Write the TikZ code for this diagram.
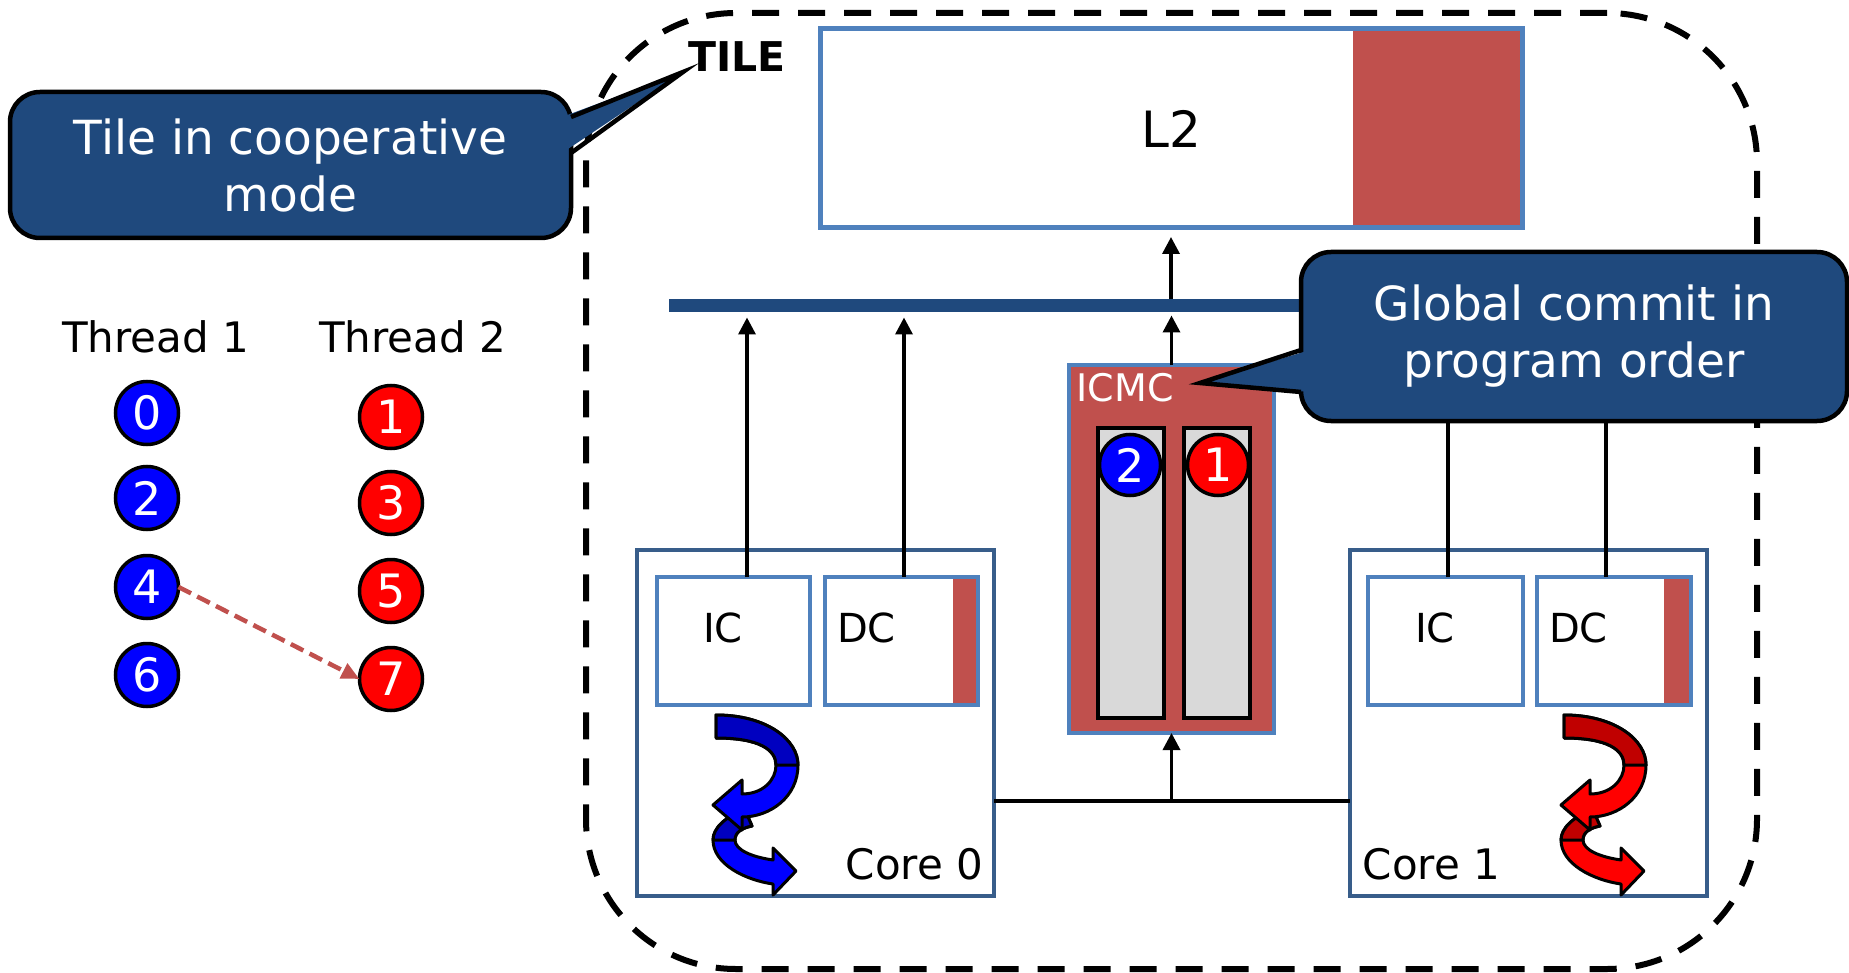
\documentclass[tikz,border=0pt]{standalone}
\usepackage{fontspec}
\setmainfont{DejaVu Sans}
\usetikzlibrary{arrows.meta,calc}
\definecolor{dblue}{RGB}{31,73,125}
\definecolor{lblue}{RGB}{79,129,189}
\definecolor{cblue}{RGB}{56,93,138}
\definecolor{redc}{RGB}{192,80,77}
\definecolor{slotgray}{RGB}{217,217,217}
\definecolor{tblue}{RGB}{0,0,255}
\definecolor{tred}{RGB}{255,0,0}
\definecolor{dkblue}{RGB}{0,0,192}
\definecolor{dkred}{RGB}{192,0,0}
\newcommand\swirlpair[3]{%
\begin{scope}[xshift=#1, line width=3pt, line join=round]
 \filldraw[draw=black,fill=#3] (745,810) .. controls (726,816) and (713,828) .. (713,840) .. controls (713,864) and (745,880) .. (773,884) -- (773,895) -- (796,871) -- (773,848) -- (773,860) .. controls (752,857) and (735,850) .. (735,840) .. controls (735,832) and (742,828) .. (752,826) -- cycle;
 \filldraw[draw=black,fill=#2] (745,810) .. controls (726,816) and (713,828) .. (713,840) -- (735,840) .. controls (735,832) and (742,828) .. (752,826) -- cycle;
 \filldraw[draw=black,fill=#3] (716,715) .. controls (767,715) and (798,740) .. (798,765) .. controls (798,797) and (770,817) .. (742,817) -- (742,830) -- (713,805) -- (742,780) -- (742,794) .. controls (763,794) and (776,780) .. (776,765) .. controls (776,750) and (760,738) .. (716,738) -- cycle;
 \filldraw[draw=black,fill=#2] (716,715) .. controls (767,715) and (798,740) .. (798,765) -- (776,765) .. controls (776,750) and (760,738) .. (716,738) -- cycle;
\end{scope}}
\begin{document}
\begin{tikzpicture}[x=1pt,y=-1pt,
  every node/.style={outer sep=0pt},
  cachebox/.style={draw=lblue,line width=3.5pt,minimum height=128pt,inner sep=0pt},
  corebox/.style={draw=cblue,line width=4.5pt,fill=white,minimum width=357pt,minimum height=346pt,inner sep=0pt},
  lbl/.style={font=\fontsize{40}{48}\selectfont,inner sep=0pt},
  corelbl/.style={font=\fontsize{42}{50}\selectfont,inner sep=0pt},
  numbase/.style={circle,draw=black,line width=3.5pt,text=white,minimum size=63pt,inner sep=0pt,font=\fontsize{46}{50}\selectfont},
  numA/.style={numbase,fill=tblue},
  numB/.style={numbase,fill=tred},
  slot/.style={draw=black,line width=4pt,fill=slotgray,minimum width=66pt,minimum height=290pt,inner sep=0pt},
  arr/.style={line width=3.5pt,-{Triangle[width=17pt,length=17pt]}},
  callout/.style={draw=black,line width=4.5pt,fill=dblue,text=white,rounded corners=30pt,align=center,inner sep=0pt,font=\fontsize{47}{57}\selectfont},
  calltip/.style={line width=4.5pt,line join=miter}
]
\useasboundingbox (0,0) rectangle (1849,973);

% tile outline
\node[draw=black,line width=6pt,dash pattern=on 27pt off 19pt,rounded corners=150pt,minimum width=1171pt,minimum height=956pt,inner sep=0pt] (tile) at (1171.5,491) {};
\node[font=\bfseries\fontsize{41}{48}\selectfont,inner sep=0pt] (tilelbl) at (737,57) {TILE};

% L2
\fill[redc] (1353,29) rectangle (1522,228);
\node[draw=lblue,line width=5pt,minimum width=702pt,minimum height=199pt,inner sep=0pt,font=\fontsize{50}{56}\selectfont] (l2) at (1171,128.5) {L2};

% bus
\node[fill=dblue,minimum width=830pt,minimum height=13pt,inner sep=0pt,anchor=west] (bus) at (669,306) {};

% ICMC
\node[draw=lblue,line width=3.5pt,fill=redc,minimum width=205pt,minimum height=368pt,inner sep=0pt] (icmc) at (1171.5,549) {};
\node[font=\fontsize{38}{44}\selectfont,text=white,inner sep=0pt] (icmclbl) at (1125,388) {ICMC};
\node[slot] (slotA) at (1131,573) {};
\node[slot] (slotB) at (1217,573) {};
\node[numA,minimum size=61pt] (q2) at (1130,465) {2};
\node[numB,minimum size=61pt] (q1) at (1218,465) {1};

% cores
\node[corebox] (core0) at (815.5,723) {};
\node[corebox] (core1) at (1528.5,723) {};
\node[corelbl] (core0lbl) at (914.5,864) {Core 0};
\node[corelbl] (core1lbl) at (1431.5,864) {Core 1};

\node[cachebox,minimum width=153pt] (ic0) at (733.5,641) {};
\fill[redc] (953,577) rectangle (978,705);
\node[cachebox,minimum width=153pt] (dc0) at (901.5,641) {};
\node[cachebox,minimum width=155pt] (ic1) at (1445.5,641) {};
\fill[redc] (1664,577) rectangle (1691,705);
\node[cachebox,minimum width=154pt] (dc1) at (1614,641) {};
\node[lbl] (ic0lbl) at (723,628) {IC};
\node[lbl] (dc0lbl) at (866.5,628) {DC};
\node[lbl] (ic1lbl) at (1435,628) {IC};
\node[lbl] (dc1lbl) at (1578.5,628) {DC};

\swirlpair{0pt}{dkblue}{tblue}
\swirlpair{848pt}{dkred}{tred}

% connectors
\coordinate (a0) at ([xshift=13.5pt]ic0.north);
\coordinate (a1) at ([xshift=2.5pt]dc0.north);
\coordinate (a2) at ([xshift=2.5pt]ic1.north);
\coordinate (a3) at ([xshift=-8pt]dc1.north);
\draw[arr,shorten >=5pt] (a0) -- (a0 |- bus.south);
\draw[arr,shorten >=5pt] (a1) -- (a1 |- bus.south);
\draw[arr,shorten >=5pt] (a2) -- (a2 |- bus.south);
\draw[arr,shorten >=5pt] (a3) -- (a3 |- bus.south);
\draw[arr,shorten >=3pt] (icmc.north) -- (icmc.north |- bus.south);
\draw[arr,shorten >=9pt] (l2.south |- bus.north) -- (l2.south);
\coordinate (h0) at ([yshift=-78pt]core0.east);
\draw[line width=3.5pt] (h0) -- (h0 -| core1.west);
\draw[arr] (h0 -| icmc.south) -- (icmc.south);

% threads
\node[corelbl] (th1) at (155.5,337) {Thread 1};
\node[corelbl] (th2) at (412.5,337) {Thread 2};
\node[numA] (c0) at (147,413) {0};
\node[numA] (c2) at (147,498) {2};
\node[numA] (c4) at (147,587) {4};
\node[numA] (c6) at (147,675) {6};
\node[numB] (c1) at (391,417) {1};
\node[numB] (c3) at (391,503) {3};
\node[numB] (c5) at (391,591) {5};
\node[numB] (c7) at (391,679) {7};
\draw[redc,line width=4.5pt,dash pattern=on 14pt off 7pt,-{Triangle[width=16pt,length=18pt]}] (c4.east) -- (c7.west);

% callouts
\node[callout,minimum width=561pt,minimum height=146pt] (tcall) at (290.5,165) {Tile in cooperative\\mode};
\coordinate (tb1) at (571,117);
\coordinate (tb2) at (571,153);
\coordinate (ttip) at (683,72);
\fill[dblue] (562,117) -- (ttip) -- (562,153) -- cycle;
\draw[calltip] (tb1) -- (ttip) -- (tb2);

\node[callout,minimum width=546pt,minimum height=169pt] (gcall) at (1574,336.5) {Global commit in\\program order};
\coordinate (gb1) at (1301,350);
\coordinate (gb2) at (1301,392);
\coordinate (gtip) at (1200,383);
\fill[dblue] (1310,350) -- (gtip) -- (1310,392) -- cycle;
\draw[calltip] (gb1) -- (gtip) -- (gb2);
\end{tikzpicture}
\end{document}
